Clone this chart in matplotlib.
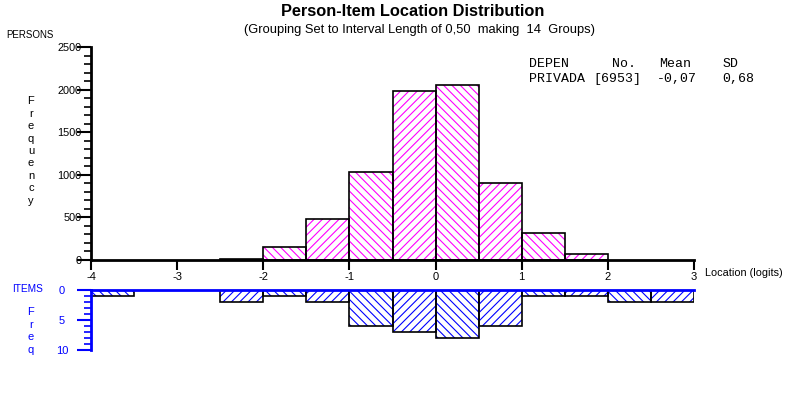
import matplotlib
matplotlib.use('Agg')
import matplotlib.pyplot as plt

plt.rcParams['font.family'] = ['Liberation Sans', 'DejaVu Sans']
plt.rcParams['axes.unicode_minus'] = False
plt.rcParams['hatch.linewidth'] = 0.8

#%% datos (intervalos de 0,50 logits, 14 grupos)
bin_left = [-4.0, -3.5, -3.0, -2.5, -2.0, -1.5, -1.0, -0.5, 0.0, 0.5, 1.0, 1.5, 2.0, 2.5]
personas = [0, 0, 0, 15, 150, 480, 1030, 1985, 2050, 900, 313, 67, 0, 0]
items = [1, 0, 0, 2, 1, 2, 6, 7, 8, 6, 1, 1, 2, 2]
x_ticks = [-4, -3, -2, -1, 0, 1, 2, 3]
stats_head = ["DEPEN", "No.", "Mean", "SD"]
stats_row = ["PRIVADA", "[6953]", "-0,07", "0,68"]

MAG = '#FF00FF'
AZUL = '#0000FF'
W, H = 785, 397

fig = plt.figure(figsize=(W/100, H/100), dpi=100)
ax1 = fig.add_axes([91/W, 137/H, 603/W, 213/H])
ax2 = fig.add_axes([91/W, 47/H, 603/W, 60/H])

#%% barras personas
for i in range(len(bin_left)):
    if personas[i] <= 0:
        continue
    h = '\\\\\\\\' if i % 2 == 0 else '////'
    ax1.bar(bin_left[i], personas[i], width=0.5, align='edge', color='none',
            edgecolor=MAG, hatch=h, lw=0)
    ax1.bar(bin_left[i], personas[i], width=0.5, align='edge', fill=False,
            edgecolor='black', lw=1.2)

ax1.set_xlim(-4, 3)
ax1.set_ylim(0, 2500)
ax1.spines['top'].set_visible(False)
ax1.spines['right'].set_visible(False)
ax1.spines['left'].set_linewidth(2)
ax1.spines['bottom'].set_linewidth(2)
ax1.set_xticks(x_ticks)
ax1.set_xticklabels([str(t) for t in x_ticks])
ax1.set_yticks(range(0, 2501, 500))
ax1.set_yticks(range(0, 2501, 100), minor=True)
ax1.tick_params(axis='y', which='major', length=10, width=1.5, pad=-3, labelsize=7.8)
ax1.tick_params(axis='y', which='minor', length=5, width=1.2)
ax1.tick_params(axis='x', which='major', length=7, width=1.5, pad=1.5, labelsize=8)
ax1.patch.set_alpha(0)

#%% barras items (hacia abajo)
for i in range(len(bin_left)):
    if items[i] <= 0:
        continue
    h = '\\\\\\\\' if i % 2 == 0 else '////'
    ax2.bar(bin_left[i], items[i], width=0.5, align='edge', color='none',
            edgecolor=AZUL, hatch=h, lw=0)
    ax2.bar(bin_left[i], items[i], width=0.5, align='edge', fill=False,
            edgecolor='black', lw=1.2)

ax2.set_xlim(-4, 3)
ax2.set_ylim(10, 0)
ax2.spines['bottom'].set_visible(False)
ax2.spines['right'].set_visible(False)
ax2.spines['top'].set_color(AZUL)
ax2.spines['top'].set_linewidth(2)
ax2.spines['left'].set_color(AZUL)
ax2.spines['left'].set_linewidth(2)
ax2.set_xticks([])
ax2.set_yticks([0, 5, 10])
ax2.set_yticks(range(0, 11), minor=True)
ax2.tick_params(axis='y', which='major', length=10, width=1.5, color=AZUL,
                labelcolor=AZUL, pad=11, labelsize=8)
ax2.tick_params(axis='y', which='minor', length=5, width=1.2, color=AZUL)
for lab in ax2.get_yticklabels():
    lab.set_horizontalalignment('center')
ax2.patch.set_alpha(0)

#%% textos
def ftxt(x, y, s, **kw):
    fig.text(x/W, 1 - y/H, s, **kw)

ftxt(413, 12, "Person-Item Location Distribution", ha='center', va='center',
     fontsize=11.8, fontweight='bold')
ftxt(419, 30, "(Grouping Set to Interval Length of 0,50  making  14  Groups)",
     ha='center', va='center', fontsize=9.3)
ftxt(6, 35, "PERSONS", ha='left', va='center', fontsize=7)
ftxt(31, 151, "\n".join("Frequency"), ha='center', va='center', fontsize=8,
     linespacing=1.3)
ftxt(12, 289, "ITEMS", ha='left', va='center', fontsize=7.3, color=AZUL)
ftxt(31, 331, "\n".join("Freq"), ha='center', va='center', fontsize=8,
     linespacing=1.3, color=AZUL)
ftxt(705, 273, "Location (logits)", ha='left', va='center', fontsize=7.8)

xs_head = [529, 612, 659, 723]
xs_row = [529, 593, 657, 722]
for s, x in zip(stats_head, xs_head):
    ftxt(x, 64, s, ha='left', va='center', fontsize=9.5, family='Liberation Mono')
for s, x in zip(stats_row, xs_row):
    ftxt(x, 79, s, ha='left', va='center', fontsize=9.5, family='Liberation Mono')

fig.savefig('out.png', dpi=100)
